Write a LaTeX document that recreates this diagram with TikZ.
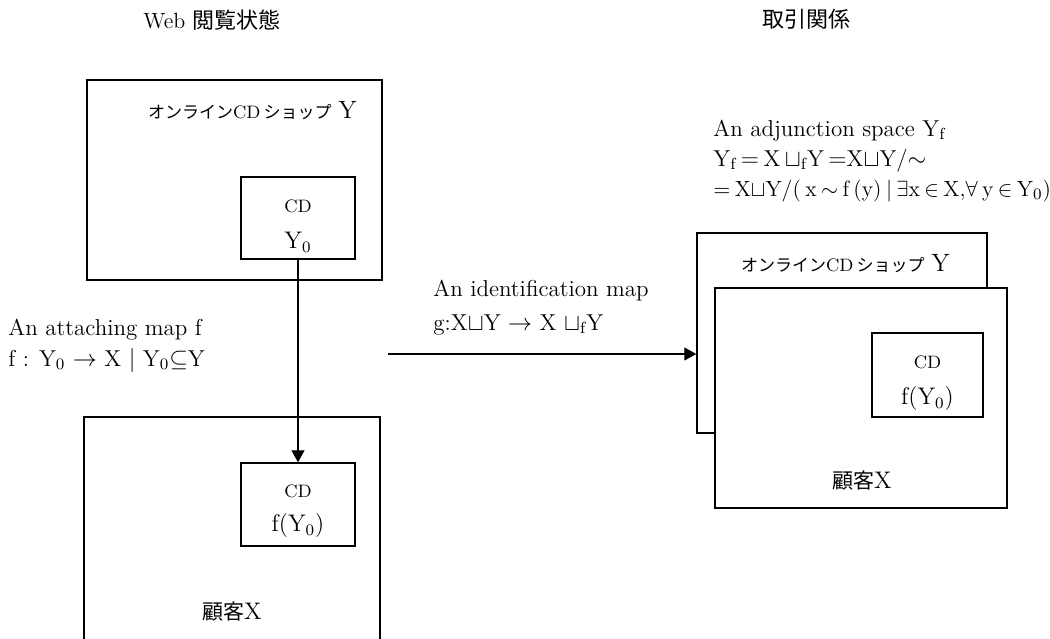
\documentclass[tikz,border=0pt]{standalone}
\usepackage{fontspec}
\newfontfamily\jp{Noto Sans CJK JP}
\usetikzlibrary{arrows.meta}
\newcommand{\tsp}{\hspace{2.2pt}}
\begin{document}
\begin{tikzpicture}[x=0.5pt,y=-0.5pt,
  box/.style={draw, line width=0.7pt, fill=white, inner sep=0pt, anchor=center},
  txt/.style={inner sep=0pt, font=\fontsize{11.5}{14}\selectfont},
  ttl/.style={inner sep=0pt, font=\fontsize{11}{13}\selectfont},
  small/.style={inner sep=0pt, font=\fontsize{9}{11}\selectfont},
  big/.style={inner sep=0pt, font=\fontsize{12}{14}\selectfont},
  conn/.style={line width=0.6pt, -{Triangle[length=6pt,width=6.5pt]}}]
\useasboundingbox (0,0) rectangle (1050,638);
\clip (0,0) rectangle (1050,638);

% headings
\node[ttl] (t1) at (212,20) {Web {\jp 閲覧状態}};
\node[ttl] (t2) at (806,19) {\jp 取引関係};

% web side: shop Y with its CD part
\node[box, minimum width=147.5pt, minimum height=100pt] (Y) at (234.5,180) {};
\node[inner sep=0pt, anchor=east] (Ylab) at (357,111)
  {{\jp\fontsize{8.5}{10}\selectfont オンライン}{\fontsize{9}{11}\selectfont CD\,}{\jp\fontsize{8.5}{10}\selectfont ショップ}\,\,{\fontsize{12.5}{14}\selectfont Y}};
\node[box, minimum width=57pt, minimum height=41pt] (Y0) at (298,218) {};
\node[small] (Y0cd) at (298,206) {CD};
\node[big] (Y0lab) at (298,242) {Y$_0$};

% web side: customer X
\node[box, minimum width=148pt, minimum height=120pt] (X) at (232,537) {};
\node[box, minimum width=57pt, minimum height=41.5pt] (fX) at (298,504.5) {};
\node[small] (fXcd) at (298,491) {CD};
\node[big] (fXlab) at (298,526) {f(Y$_0$)};
\node[big] (Xlab) at (232,612) {{\jp\fontsize{10.5}{12}\selectfont 顧客}X};

% attaching map
\draw[conn] (Y0.south) -- (Y0.south |- fX.north);
\node[txt, anchor=base west] (am1) at (8,335) {An attaching map f};
\node[txt, anchor=base west] (am2) at (8,366) {f : Y$_0$ ${\rightarrow}$ X $|$ Y$_0$${\subseteq}$Y};

% transaction side: adjunction space
\node[txt, anchor=base west] (ad1) at (713,136) {An adjunction space Y\textsubscript{f}};
\node[txt, anchor=base west] (ad2) at (713,166) {Y\textsubscript{f}\tsp${=}$\tsp X\tsp${\sqcup}$\textsubscript{f}Y\tsp${=}$X${\sqcup}$Y/${\sim}$};
\node[txt, anchor=base west, font=\fontsize{11}{13}\selectfont] (ad3) at (713,196)
  {${=}$\tsp X${\sqcup}$Y/(\tsp x\tsp${\sim}$\tsp f\tsp(y)\tsp$|$\tsp${\exists}$x\tsp${\in}$\tsp X,${\forall}$\tsp y\tsp${\in}$\tsp Y$_0$)};

\node[box, minimum width=145pt, minimum height=100pt] (Yr) at (842,333) {};
\node[inner sep=0pt, anchor=east] (Yrlab) at (950,264)
  {{\jp\fontsize{8.5}{10}\selectfont オンライン}{\fontsize{9}{11}\selectfont CD\,}{\jp\fontsize{8.5}{10}\selectfont ショップ}\,\,{\fontsize{12.5}{14}\selectfont Y}};
\node[box, minimum width=146pt, minimum height=110pt] (Xr) at (861,398) {};
\node[box, minimum width=55.5pt, minimum height=42pt] (fr) at (927.5,375) {};
\node[small] (frcd) at (927.5,362) {CD};
\node[big] (frlab) at (927.5,399) {f(Y$_0$)};
\node[big] (Xrlab) at (862,481) {{\jp\fontsize{10.5}{12}\selectfont 顧客}X};

% identification map
\coordinate (gstart) at (388,354);
\draw[conn] (gstart) -- (gstart -| Yr.west);
\node[txt, anchor=base west] (id1) at (433,296) {An identification map};
\node[txt, anchor=base west] (id2) at (433,330) {g:X${\sqcup}$Y ${\rightarrow}$ X ${\sqcup}$\textsubscript{f}Y};
\end{tikzpicture}
\end{document}
